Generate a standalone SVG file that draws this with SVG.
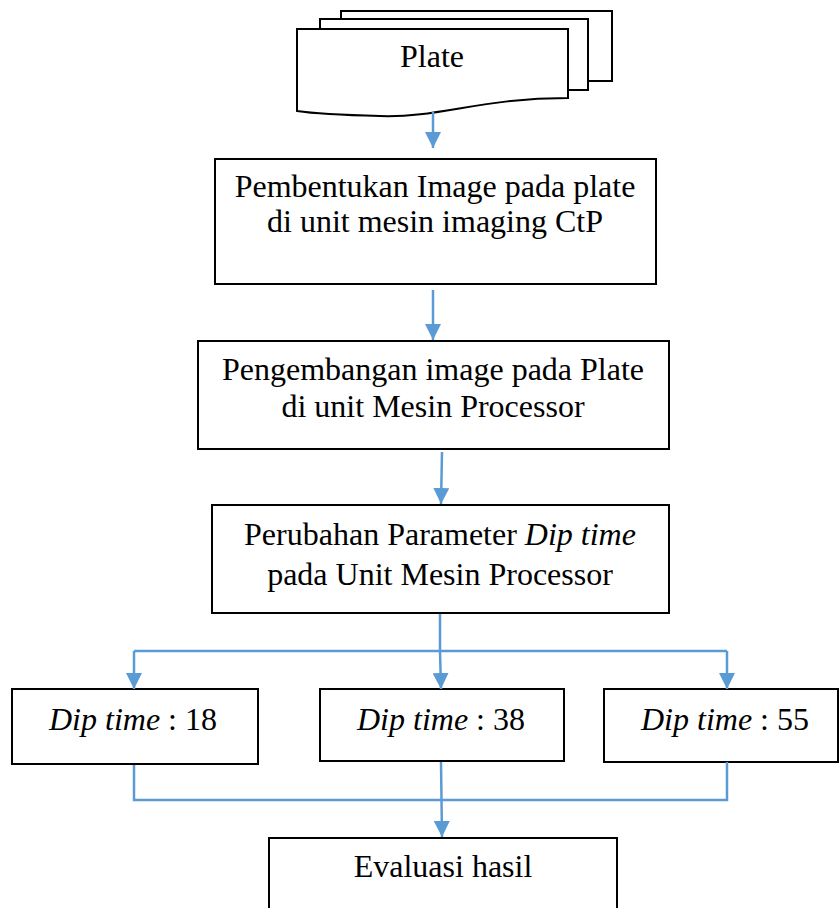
<svg xmlns="http://www.w3.org/2000/svg" width="840" height="908" viewBox="0 0 840 908">
<style>
.box{fill:#fff;stroke:#000;stroke-width:2}
.t{font-family:"Liberation Serif","Times New Roman",serif;font-size:32px;fill:#000;text-anchor:middle}
.i{font-style:italic}
.c{fill:none;stroke:#5B9BD5;stroke-width:2.5}
</style>
<defs>
<marker id="a" viewBox="0 0 16 16" refX="16" refY="8" markerWidth="16" markerHeight="16" markerUnits="userSpaceOnUse" orient="auto">
<path d="M0,0 L16,8 L0,16 Z" fill="#5B9BD5"/>
</marker>
</defs>
<rect width="840" height="908" fill="#fff"/>
<g id="plate">
<rect class="box" x="341" y="11" width="271" height="70"/>
<rect class="box" x="320" y="19" width="268" height="71"/>
<path class="box" d="M297,29 H568 V98 C480,98 440,118 380,116 C340,115 310,113 297,111 Z"/>
<text class="t" x="432" y="67">Plate</text>
</g>
<g id="imaging">
<rect class="box" x="215" y="159" width="441" height="125"/>
<text class="t" x="435" y="197">Pembentukan Image pada plate</text>
<text class="t" x="435" y="232">di unit mesin imaging CtP</text>
</g>
<g id="processor">
<rect class="box" x="198" y="341" width="471" height="108"/>
<text class="t" x="433" y="380">Pengembangan image pada Plate</text>
<text class="t" x="433" y="417">di unit Mesin Processor</text>
</g>
<g id="parameter">
<rect class="box" x="212" y="505" width="457" height="108"/>
<text class="t" x="440" y="545">Perubahan Parameter <tspan class="i">Dip time</tspan></text>
<text class="t" x="440" y="585">pada Unit Mesin Processor</text>
</g>
<g id="dip18">
<rect class="box" x="12" y="689" width="246" height="75"/>
<text class="t" x="133" y="730"><tspan class="i">Dip time</tspan> : 18</text>
</g>
<g id="dip38">
<rect class="box" x="320" y="689" width="244" height="72"/>
<text class="t" x="441" y="730"><tspan class="i">Dip time</tspan> : 38</text>
</g>
<g id="dip55">
<rect class="box" x="604" y="689" width="234" height="73"/>
<text class="t" x="725" y="730"><tspan class="i">Dip time</tspan> : 55</text>
</g>
<g id="evaluasi">
<rect class="box" x="269" y="838" width="348" height="80"/>
<text class="t" x="443" y="877">Evaluasi hasil</text>
</g>
<g id="connectors">
<path class="c" d="M433,112 V148" marker-end="url(#a)"/>
<path class="c" d="M433,290 V340" marker-end="url(#a)"/>
<path class="c" d="M442,452 L441,504" marker-end="url(#a)"/>
<path class="c" d="M440,614 V651"/>
<path class="c" d="M134,651 H727"/>
<path class="c" d="M134,651 V689" marker-end="url(#a)"/>
<path class="c" d="M440,651 L441,689" marker-end="url(#a)"/>
<path class="c" d="M727,651 V689" marker-end="url(#a)"/>
<path class="c" d="M134,765 V800 H727 V762"/>
<path class="c" d="M441,762 L442,837" marker-end="url(#a)"/>
</g>
</svg>
